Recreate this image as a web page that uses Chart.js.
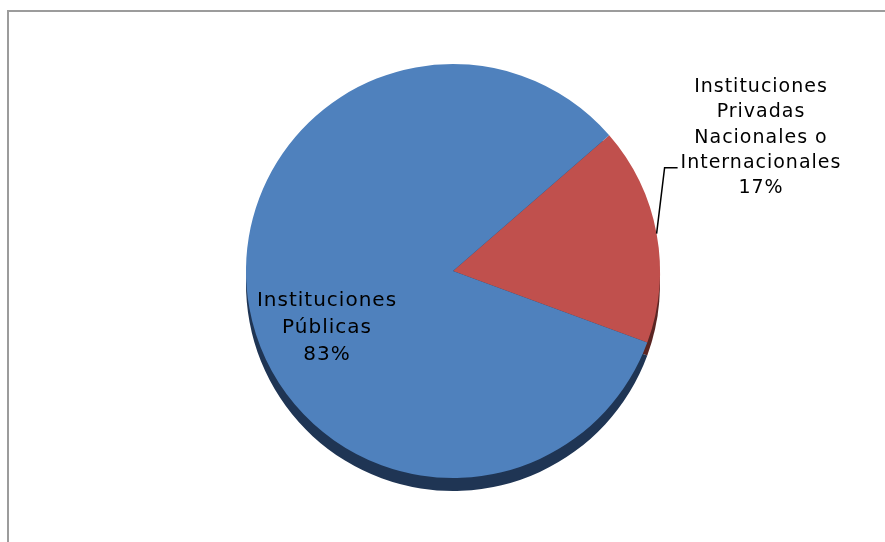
<!DOCTYPE html>
<html>
<head>
<meta charset="utf-8">
<script src="https://cdn.jsdelivr.net/npm/chart.js@4.4.1/dist/chart.umd.min.js"></script>
<style>
  html, body { margin: 0; padding: 0; background: #fff; }
  #wrap { position: relative; width: 885px; height: 542px; overflow: hidden; }
  #frame { position: absolute; left: 7px; top: 10px; width: 900px; height: 600px;
           border-left: 2px solid #9c9c9c; border-top: 2px solid #9c9c9c; }
  #chart { position: absolute; left: 0; top: 0; }
</style>
</head>
<body>
<div id="wrap">
  <div id="frame"></div>
  <canvas id="chart" width="885" height="542"></canvas>
</div>
<script>
// datos
const categorias = ['Instituciones Privadas Nacionales o Internacionales', 'Instituciones Públicas'];
const valores = [17, 83];
// líneas de texto de cada etiqueta
const etiquetas = [
    ['Instituciones', 'Privadas', 'Nacionales o', 'Internacionales', '17%'],
    ['Instituciones', 'Públicas', '83%']
];

// borde oscuro inferior (efecto 3D)
const rimPlugin = {
    id: 'rim',
    beforeDatasetsDraw(chart) {
        const ctx = chart.ctx;
        const meta = chart.getDatasetMeta(0);
        const rims = ['#5a2523', '#1f3554'];
        ctx.save();
        meta.data.forEach((arc, i) => {
            const p = arc.getProps(['x', 'y', 'startAngle', 'endAngle', 'outerRadius'], true);
            ctx.beginPath();
            ctx.moveTo(p.x, p.y + 13);
            ctx.arc(p.x, p.y + 13, p.outerRadius, p.startAngle, p.endAngle);
            ctx.closePath();
            ctx.fillStyle = rims[i];
            ctx.fill();
        });
        ctx.restore();
    }
};

// etiquetas de datos
const labelPlugin = {
    id: 'pieLabels',
    afterDatasetsDraw(chart) {
        const ctx = chart.ctx;
        const meta = chart.getDatasetMeta(0);
        ctx.save();
        ctx.fillStyle = '#000';
        ctx.textAlign = 'center';
        ctx.textBaseline = 'alphabetic';
        ctx.font = '19px "DejaVu Sans"';
        if ('letterSpacing' in ctx) ctx.letterSpacing = '1px';

        // etiqueta externa (privadas) con línea guía
        const a = meta.data[0].getProps(['x', 'y', 'startAngle', 'endAngle', 'outerRadius'], true);
        const mid = (a.startAngle + a.endAngle) / 2;
        const ex = a.x + Math.cos(mid) * a.outerRadius;
        const ey = a.y + Math.sin(mid) * a.outerRadius;
        ctx.strokeStyle = '#000';
        ctx.lineWidth = 1.5;
        ctx.beginPath();
        ctx.moveTo(ex, ey);
        ctx.lineTo(ex + 8, ey - 66);
        ctx.lineTo(ex + 21, ey - 66);
        ctx.stroke();
        etiquetas[0].forEach((t, i) => {
            ctx.fillText(t, 761, 92 + i * 25.3);
        });

        // etiqueta interna (públicas)
        ctx.font = '20px "DejaVu Sans"';
        etiquetas[1].forEach((t, i) => {
            ctx.fillText(t, 327, 306 + i * 27);
        });
        ctx.restore();
    }
};

const ctx = document.getElementById('chart').getContext('2d');
new Chart(ctx, {
    type: 'pie',
    data: {
        labels: categorias,
        datasets: [{
            data: valores,
            backgroundColor: ['#c0504d', '#4f81bd'],
            borderWidth: 0
        }]
    },
    options: {
        responsive: false,
        animation: false,
        rotation: 49,
        layout: {
            padding: { left: 246, right: 225, top: 64, bottom: 64 }
        },
        plugins: {
            legend: { display: false },
            tooltip: { enabled: false }
        }
    },
    plugins: [rimPlugin, labelPlugin]
});
</script>
</body>
</html>
